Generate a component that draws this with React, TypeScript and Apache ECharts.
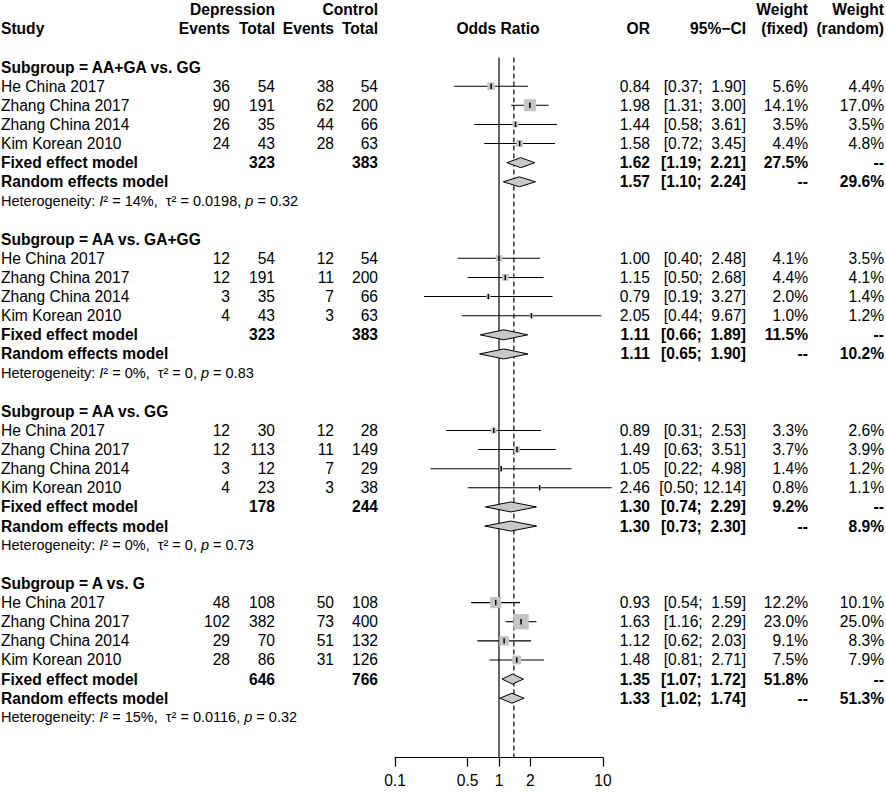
import React, { useEffect, useRef } from 'react';
import * as echarts from 'echarts';

const FONT = '"Liberation Sans", Arial, Helvetica, sans-serif';
const FS = 15.6;
const FS_HET = 14.5;

// ---------- data ----------
const subgroups = ['AA+GA vs. GG', 'AA vs. GA+GG', 'AA vs. GG', 'A vs. G'];
const studies = ['He China 2017', 'Zhang China 2017', 'Zhang China 2014', 'Kim Korean 2010'];

const depEvents = [[36, 90, 26, 24], [12, 12, 3, 4], [12, 12, 3, 4], [48, 102, 29, 28]];
const depTotal = [[54, 191, 35, 43], [54, 191, 35, 43], [30, 113, 12, 23], [108, 382, 70, 86]];
const ctrlEvents = [[38, 62, 44, 28], [12, 11, 7, 3], [12, 11, 7, 3], [50, 73, 51, 31]];
const ctrlTotal = [[54, 200, 66, 63], [54, 200, 66, 63], [28, 149, 29, 38], [108, 400, 132, 126]];

const studyOR = [[0.84, 1.98, 1.44, 1.58], [1.0, 1.15, 0.79, 2.05], [0.89, 1.49, 1.05, 2.46], [0.93, 1.63, 1.12, 1.48]];
const studyLow = [[0.37, 1.31, 0.58, 0.72], [0.4, 0.5, 0.19, 0.44], [0.31, 0.63, 0.22, 0.5], [0.54, 1.16, 0.62, 0.81]];
const studyHigh = [[1.9, 3.0, 3.61, 3.45], [2.48, 2.68, 3.27, 9.67], [2.53, 3.51, 4.98, 12.14], [1.59, 2.29, 2.03, 2.71]];
const weightFixed = [[5.6, 14.1, 3.5, 4.4], [4.1, 4.4, 2.0, 1.0], [3.3, 3.7, 1.4, 0.8], [12.2, 23.0, 9.1, 7.5]];
const weightRandom = [[4.4, 17.0, 3.5, 4.8], [3.5, 4.1, 1.4, 1.2], [2.6, 3.9, 1.2, 1.1], [10.1, 25.0, 8.3, 7.9]];

const fixedOR = [1.62, 1.11, 1.3, 1.35];
const fixedLow = [1.19, 0.66, 0.74, 1.07];
const fixedHigh = [2.21, 1.89, 2.29, 1.72];
const fixedWeight = [27.5, 11.5, 9.2, 51.8];
const randomOR = [1.57, 1.11, 1.3, 1.33];
const randomLow = [1.1, 0.65, 0.73, 1.02];
const randomHigh = [2.24, 1.9, 2.3, 1.74];
const randomWeight = [29.6, 10.2, 8.9, 51.3];
const depTotalSum = [323, 323, 178, 646];
const ctrlTotalSum = [383, 383, 244, 766];

const hetI2 = ['14%', '0%', '0%', '15%'];
const hetTau2 = ['0.0198', '0', '0', '0.0116'];
const hetP = ['0.32', '0.83', '0.73', '0.32'];

const overallOR = 1.39;
const xTicks = [0.1, 0.5, 1, 2, 10];

// ---------- layout constants ----------
const X_STUDY = 1;
const X_DEP_EV = 230;
const X_DEP_TOT = 275;
const X_CTL_EV = 334;
const X_CTL_TOT = 378;
const X_OR_HEAD = 498;
const X_OR = 650;
const X_CI = 746;
const X_WF = 808;
const X_WR = 884;
const BOX_K = 3.2;
const ROW_MAX = 38.1;

type TextItem = { row: number; x: number; text: string; align: string; bold?: boolean; het?: boolean };

const ciText = (lo: number, hi: number) => {
  const h = hi.toFixed(2);
  return '[' + lo.toFixed(2) + '; ' + (h.length < 5 ? ' ' : '') + h + ']';
};

function buildRows() {
  const texts: TextItem[] = [];
  const pts: number[][] = [];
  const dia: number[][] = [];
  const L = 'left', R = 'right';
  texts.push({ row: -1, x: X_DEP_TOT, text: 'Depression', align: R, bold: true });
  texts.push({ row: -1, x: X_CTL_TOT, text: 'Control', align: R, bold: true });
  texts.push({ row: -1, x: X_WF, text: 'Weight', align: R, bold: true });
  texts.push({ row: -1, x: X_WR, text: 'Weight', align: R, bold: true });
  texts.push({ row: 0, x: X_STUDY, text: 'Study', align: L, bold: true });
  texts.push({ row: 0, x: X_DEP_EV, text: 'Events', align: R, bold: true });
  texts.push({ row: 0, x: X_DEP_TOT, text: 'Total', align: R, bold: true });
  texts.push({ row: 0, x: X_CTL_EV, text: 'Events', align: R, bold: true });
  texts.push({ row: 0, x: X_CTL_TOT, text: 'Total', align: R, bold: true });
  texts.push({ row: 0, x: X_OR_HEAD, text: 'Odds Ratio', align: 'center', bold: true });
  texts.push({ row: 0, x: X_OR, text: 'OR', align: R, bold: true });
  texts.push({ row: 0, x: X_CI, text: '95%\u2212CI', align: R, bold: true });
  texts.push({ row: 0, x: X_WF, text: '(fixed)', align: R, bold: true });
  texts.push({ row: 0, x: X_WR, text: '(random)', align: R, bold: true });

  subgroups.forEach((sg, g) => {
    const base = 2 + 9 * g;
    texts.push({ row: base, x: X_STUDY, text: 'Subgroup = ' + sg, align: L, bold: true });
    studies.forEach((st, i) => {
      const r = base + 1 + i;
      texts.push({ row: r, x: X_STUDY, text: st, align: L });
      texts.push({ row: r, x: X_DEP_EV, text: String(depEvents[g][i]), align: R });
      texts.push({ row: r, x: X_DEP_TOT, text: String(depTotal[g][i]), align: R });
      texts.push({ row: r, x: X_CTL_EV, text: String(ctrlEvents[g][i]), align: R });
      texts.push({ row: r, x: X_CTL_TOT, text: String(ctrlTotal[g][i]), align: R });
      texts.push({ row: r, x: X_OR, text: studyOR[g][i].toFixed(2), align: R });
      texts.push({ row: r, x: X_CI, text: ciText(studyLow[g][i], studyHigh[g][i]), align: R });
      texts.push({ row: r, x: X_WF, text: weightFixed[g][i].toFixed(1) + '%', align: R });
      texts.push({ row: r, x: X_WR, text: weightRandom[g][i].toFixed(1) + '%', align: R });
      pts.push([Math.log10(studyOR[g][i]), r, Math.log10(studyLow[g][i]), Math.log10(studyHigh[g][i]), weightFixed[g][i]]);
    });
    const rf = base + 5;
    texts.push({ row: rf, x: X_STUDY, text: 'Fixed effect model', align: L, bold: true });
    texts.push({ row: rf, x: X_DEP_TOT, text: String(depTotalSum[g]), align: R, bold: true });
    texts.push({ row: rf, x: X_CTL_TOT, text: String(ctrlTotalSum[g]), align: R, bold: true });
    texts.push({ row: rf, x: X_OR, text: fixedOR[g].toFixed(2), align: R, bold: true });
    texts.push({ row: rf, x: X_CI, text: ciText(fixedLow[g], fixedHigh[g]), align: R, bold: true });
    texts.push({ row: rf, x: X_WF, text: fixedWeight[g].toFixed(1) + '%', align: R, bold: true });
    texts.push({ row: rf, x: X_WR, text: '--', align: R, bold: true });
    dia.push([Math.log10(fixedOR[g]), rf, Math.log10(fixedLow[g]), Math.log10(fixedHigh[g])]);
    const rr = base + 6;
    texts.push({ row: rr, x: X_STUDY, text: 'Random effects model', align: L, bold: true });
    texts.push({ row: rr, x: X_OR, text: randomOR[g].toFixed(2), align: R, bold: true });
    texts.push({ row: rr, x: X_CI, text: ciText(randomLow[g], randomHigh[g]), align: R, bold: true });
    texts.push({ row: rr, x: X_WF, text: '--', align: R, bold: true });
    texts.push({ row: rr, x: X_WR, text: randomWeight[g].toFixed(1) + '%', align: R, bold: true });
    dia.push([Math.log10(randomOR[g]), rr, Math.log10(randomLow[g]), Math.log10(randomHigh[g])]);
    texts.push({
      row: base + 7, x: X_STUDY, align: L, het: true,
      text: 'Heterogeneity: {it|I}\u00b2 = ' + hetI2[g] + ',  \u03c4\u00b2 = ' + hetTau2[g] + ', {it|p} = ' + hetP[g],
    });
  });
  return { texts, pts, dia };
}

export default function App() {
  const ref = useRef<HTMLDivElement>(null);
  useEffect(() => {
    document.body.style.margin = '0';
    if (!ref.current) return;
    const chart = echarts.init(ref.current, undefined, { renderer: 'svg' });
    const { texts, pts, dia } = buildRows();
    const tickLogs = xTicks.map((t) => Math.log10(t));
    const option: any = {
      animation: false,
      grid: { left: 395, width: 208, top: 28.8, height: 728.7, containLabel: false },
      xAxis: {
        type: 'value',
        position: 'bottom',
        min: -1,
        max: 1,
        splitLine: { show: false },
        axisLine: { show: true, onZero: false, lineStyle: { color: '#000', width: 1.2 } },
        axisTick: { show: true, length: 9, lineStyle: { color: '#000', width: 1.2 }, customValues: tickLogs },
        axisLabel: {
          customValues: tickLogs,
          color: '#000',
          fontSize: FS,
          fontFamily: FONT,
          margin: 15,
          formatter: (v: number) => {
            const t = xTicks.find((x) => Math.abs(Math.log10(x) - v) < 1e-6);
            return t === undefined ? '' : String(t);
          },
        },
      },
      yAxis: { type: 'value', inverse: true, min: 0, max: ROW_MAX, show: false },
      series: [
        {
          type: 'custom',
          clip: false,
          data: [
            [0, 1.5, ROW_MAX, 0],
            [Math.log10(overallOR), 1.5, ROW_MAX, 1],
          ],
          renderItem: (params: any, api: any) => {
            const p1 = api.coord([api.value(0), api.value(1)]);
            const p2 = api.coord([api.value(0), api.value(2)]);
            const dashed = api.value(3) === 1;
            return {
              type: 'line',
              shape: { x1: p1[0], y1: p1[1], x2: p2[0], y2: p2[1] },
              style: { stroke: '#000', lineWidth: 1.2, lineDash: dashed ? [5, 3] : null },
            };
          },
        },
        {
          type: 'custom',
          clip: false,
          data: pts,
          renderItem: (params: any, api: any) => {
            const c = api.coord([api.value(0), api.value(1)]);
            const lo = api.coord([api.value(2), api.value(1)]);
            const hi = api.coord([api.value(3), api.value(1)]);
            const side = BOX_K * Math.sqrt(api.value(4));
            return {
              type: 'group',
              children: [
                { type: 'line', shape: { x1: lo[0], y1: c[1], x2: hi[0], y2: c[1] }, style: { stroke: '#000', lineWidth: 1.1 } },
                { type: 'rect', shape: { x: c[0] - side / 2, y: c[1] - side / 2, width: side, height: side }, style: { fill: '#c4c4c4' } },
                { type: 'line', shape: { x1: c[0], y1: c[1] - 2.7, x2: c[0], y2: c[1] + 2.7 }, style: { stroke: '#000', lineWidth: 1.5 } },
              ],
            };
          },
        },
        {
          type: 'custom',
          clip: false,
          data: dia,
          renderItem: (params: any, api: any) => {
            const c = api.coord([api.value(0), api.value(1)]);
            const lo = api.coord([api.value(2), api.value(1)]);
            const hi = api.coord([api.value(3), api.value(1)]);
            const h = 5;
            return {
              type: 'polygon',
              shape: { points: [[lo[0], c[1]], [c[0], c[1] - h], [hi[0], c[1]], [c[0], c[1] + h]] },
              style: { fill: '#c8c8c8', stroke: '#000', lineWidth: 1 },
            };
          },
        },
        {
          type: 'custom',
          clip: false,
          data: texts.map((t) => [0, t.row]),
          renderItem: (params: any, api: any) => {
            const it = texts[params.dataIndex];
            const y = api.coord([0, api.value(1)])[1];
            const size = it.het ? FS_HET : FS;
            const style: any = {
              text: it.text,
              fill: '#000',
              fontSize: size,
              fontFamily: FONT,
              fontWeight: it.bold ? 'bold' : 'normal',
              align: it.align,
              verticalAlign: 'middle',
            };
            if (it.het) {
              style.rich = {
                it: { fontStyle: 'italic', fontSize: size, fontFamily: FONT, fill: '#000' },
              };
            }
            return { type: 'text', x: it.x, y, style };
          },
        },
      ],
    };
    chart.setOption(option);
    return () => chart.dispose();
  }, []);
  return <div ref={ref} style={{ width: 886, height: 793 }} />;
}
